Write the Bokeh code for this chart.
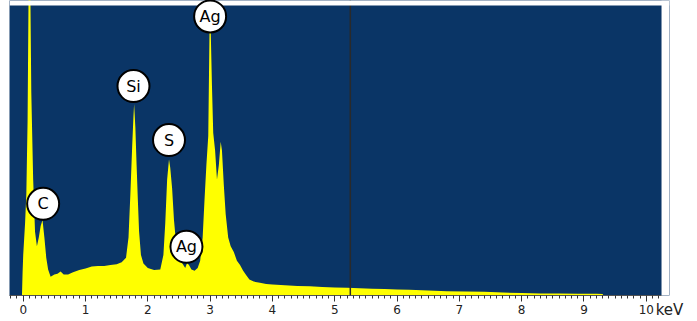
from bokeh.plotting import figure
from bokeh.models import Range1d, Span, FixedTicker, ColumnDataSource, BoxAnnotation
from bokeh.core.properties import value
from bokeh.embed import file_html
from bokeh.resources import INLINE

# Spectrum (energy in keV, counts in relative units; 100 = top of plot)
energy = [-0.05, -0.02, -0.01, 0.00, 0.03, 0.05, 0.07, 0.09, 0.11, 0.13, 0.16, 0.19,
          0.22, 0.25, 0.28, 0.31, 0.34, 0.37, 0.40, 0.44, 0.50, 0.55, 0.60, 0.65,
          0.72, 0.80, 0.90, 1.00, 1.10, 1.20, 1.30, 1.40, 1.50, 1.58, 1.65, 1.69,
          1.72, 1.75, 1.77, 1.78, 1.80, 1.82, 1.84, 1.86, 1.89, 1.93, 2.00, 2.10,
          2.20, 2.25, 2.28, 2.31, 2.34, 2.36, 2.39, 2.42, 2.45, 2.49, 2.53, 2.57,
          2.60, 2.63, 2.66, 2.70, 2.75, 2.80, 2.84, 2.88, 2.91, 2.94, 2.97, 2.99,
          3.01, 3.03, 3.05, 3.08, 3.11, 3.14, 3.17, 3.19, 3.22, 3.25, 3.29, 3.33,
          3.38, 3.43, 3.48, 3.53, 3.58, 3.63, 3.70, 3.80, 3.90, 4.00, 4.20, 4.40,
          4.60, 4.80, 5.00, 5.20, 5.40, 5.60, 5.80, 6.00, 6.20, 6.50, 6.80, 7.10,
          7.40, 7.70, 8.00, 8.30, 8.60, 8.90, 9.20, 9.30, 9.31, 10.25]
counts = [0, 0, 8, 14, 25, 35, 60, 115, 115, 70, 40, 22,
          17, 20, 24, 26, 20, 13, 9, 6.5, 7.2, 7.5, 8.3, 7.2,
          7.2, 8, 8.8, 9.3, 10, 10.2, 10.2, 10.5, 10.8, 11.5, 13, 20,
          35, 52, 62, 66, 58, 45, 33, 22, 14, 11, 9.5, 8.8,
          9, 14, 25, 40, 47, 44, 37, 26, 19, 14, 12, 10.5,
          9.5, 11.2, 10.5, 9, 8.5, 9.5, 12, 20, 33, 45, 55, 91,
          91, 72, 56, 50, 40, 45, 53, 50, 38, 28, 20, 17,
          15, 12, 10.5, 8.5, 7, 5.5, 4.8, 4.4, 4.0, 3.8, 3.5, 3.3,
          3.2, 2.9, 2.8, 2.7, 2.5, 2.3, 2.2, 2.1, 2.0, 1.7, 1.5, 1.4,
          1.25, 1.0, 0.85, 0.7, 0.65, 0.6, 0.6, 0.5, 0, 0]

# Element labels
elements = ["C", "Si", "S", "Ag", "Ag"]
label_x = [0.32, 1.77, 2.34, 2.62, 3.00]
label_y = [31.6, 72.2, 53.6, 16.8, 96.2]

major_ticks = [0, 1, 2, 3, 4, 5, 6, 7, 8, 9, 10]
unit_label = "keV"
marker_energy = 5.25
axis_start, axis_end = -0.22, 10.245

p = figure(width=697, height=321, output_backend="svg", toolbar_location=None,
           x_range=Range1d(axis_start, 10.373), y_range=Range1d(0, 101.7),
           min_border_left=9, min_border_right=28, min_border_top=0, min_border_bottom=24)
p.background_fill_color = "#0a3566"
p.border_fill_color = "white"
p.outline_line_color = None
p.grid.visible = False
p.yaxis.visible = False

p.varea(x=energy, y1=0, y2=counts, fill_color="#ffff00")

p.add_layout(Span(location=marker_energy, dimension="height",
                  line_color="#2a2a2a", line_width=1.5))
# white margins above and to the right of the plot area
p.add_layout(BoxAnnotation(bottom=100, fill_color="white", fill_alpha=1.0,
                           line_color=None))
p.add_layout(BoxAnnotation(left=axis_end, fill_color="white", fill_alpha=1.0,
                           line_color=None))

src = ColumnDataSource(dict(x=label_x, y=label_y, t=elements))
p.scatter(x="x", y="y", source=src, marker="circle", size=32,
          fill_color="white", line_color="black", line_width=2, level="overlay")
p.text(x="x", y="y", text="t", source=src, text_align="center",
       text_baseline="middle", text_font=value("DejaVu Sans"),
       text_font_size="16px", text_color="black", level="overlay")

xa = p.xaxis[0]
xa.bounds = (axis_start, axis_end)
xa.ticker = FixedTicker(ticks=major_ticks,
                        minor_ticks=[i / 10 for i in range(-2, 103) if i % 10 != 0])
xa.axis_line_color = "#555555"
xa.major_tick_line_color = "#333333"
xa.minor_tick_line_color = "#333333"
xa.major_tick_in = 0
xa.major_tick_out = 6
xa.minor_tick_in = 0
xa.minor_tick_out = 3
xa.major_label_standoff = 3
xa.major_label_text_font = "DejaVu Sans"
xa.major_label_text_font_size = "12px"
xa.major_label_text_color = "#222222"
xa.axis_label = unit_label
xa.axis_label_align = "end"
xa.axis_label_standoff = -16
xa.axis_label_text_font = "DejaVu Sans"
xa.axis_label_text_font_size = "15px"
xa.axis_label_text_font_style = "normal"
xa.axis_label_text_color = "#222222"

open("out.html", "w").write(file_html(p, INLINE))
